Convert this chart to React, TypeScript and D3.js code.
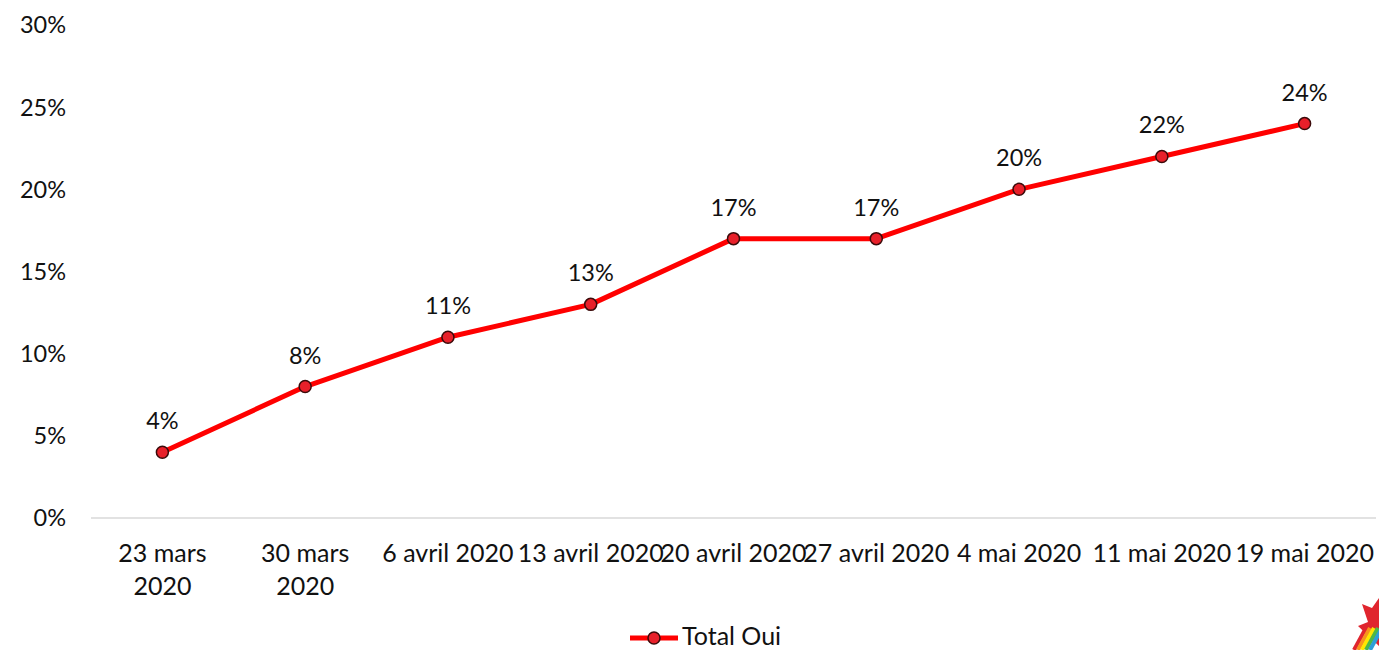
import React from "react";
import * as d3 from "d3";

const categories: string[][] = [
  ["23 mars", "2020"],
  ["30 mars", "2020"],
  ["6 avril 2020"],
  ["13 avril 2020"],
  ["20 avril 2020"],
  ["27 avril 2020"],
  ["4 mai 2020"],
  ["11 mai 2020"],
  ["19 mai 2020"],
];
const totalOui: number[] = [0.04, 0.08, 0.11, 0.13, 0.17, 0.17, 0.2, 0.22, 0.24];
const yTicks: number[] = [0, 0.05, 0.1, 0.15, 0.2, 0.25, 0.3];
const seriesName = "Total Oui";

const W = 1379;
const H = 650;
const FONT = "Lato, 'Open Sans', sans-serif";

export default function App() {
  const keys = categories.map((c) => c.join(" "));
  const x = d3.scaleBand<string>().domain(keys).range([91, 1376]);
  const y = d3.scaleLinear().domain([0, 0.3]).range([518, 25]);
  const line = d3
    .line<number>()
    .x((_, i) => (x(keys[i]) as number) + x.bandwidth() / 2)
    .y((d) => y(d));
  const fmt = d3.format(".0%");

  return (
    <svg
      width={W}
      height={H}
      style={{ position: "absolute", left: 0, top: 0, background: "#fff" }}
      fontFamily={FONT}
    >
      {yTicks.map((t) => (
        <text
          key={t}
          x={66}
          y={y(t)}
          dy="0.36em"
          textAnchor="end"
          fontSize={23.5}
          fill="#111"
        >
          {fmt(t)}
        </text>
      ))}
      <line x1={91} x2={1376} y1={y(0)} y2={y(0)} stroke="#d9d9d9" strokeWidth={1.5} />
      {categories.map((c, i) => (
        <text
          key={keys[i]}
          x={(x(keys[i]) as number) + x.bandwidth() / 2}
          y={562}
          textAnchor="middle"
          fontSize={25}
          fill="#111"
        >
          {c.map((l, j) => (
            <tspan key={j} x={(x(keys[i]) as number) + x.bandwidth() / 2} dy={j === 0 ? 0 : 33}>
              {l}
            </tspan>
          ))}
        </text>
      ))}
      <path d={line(totalOui) || ""} fill="none" stroke="#ff0000" strokeWidth={5} strokeLinejoin="round" />
      {totalOui.map((v, i) => {
        const cx = (x(keys[i]) as number) + x.bandwidth() / 2;
        return (
          <g key={i}>
            <circle cx={cx} cy={y(v)} r={6} fill="#e8202a" stroke="#3b0a0a" strokeWidth={1.5} />
            <text x={cx} y={y(v) - 23} textAnchor="middle" fontSize={23.5} fill="#111">
              {fmt(v)}
            </text>
          </g>
        );
      })}
      <line x1={630} x2={678} y1={638} y2={638} stroke="#ff0000" strokeWidth={5} />
      <circle cx={654} cy={638} r={6} fill="#e8202a" stroke="#3b0a0a" strokeWidth={1.5} />
      <text x={682} y={645} fontSize={25} fill="#111">
        {seriesName}
      </text>
      <g>
        <path d="M1379,598 L1372,608 L1362,604 L1368,622 L1358,626 L1379,646 Z" fill="#e0252e" />
        {["#e0252e", "#f7941d", "#ffe600", "#4cb848", "#2e9fd8"].map((c, i) => (
          <line key={c} x1={1354 + i * 4} y1={650} x2={1366 + i * 4} y2={628} stroke={c} strokeWidth={4} />
        ))}
      </g>
    </svg>
  );
}
